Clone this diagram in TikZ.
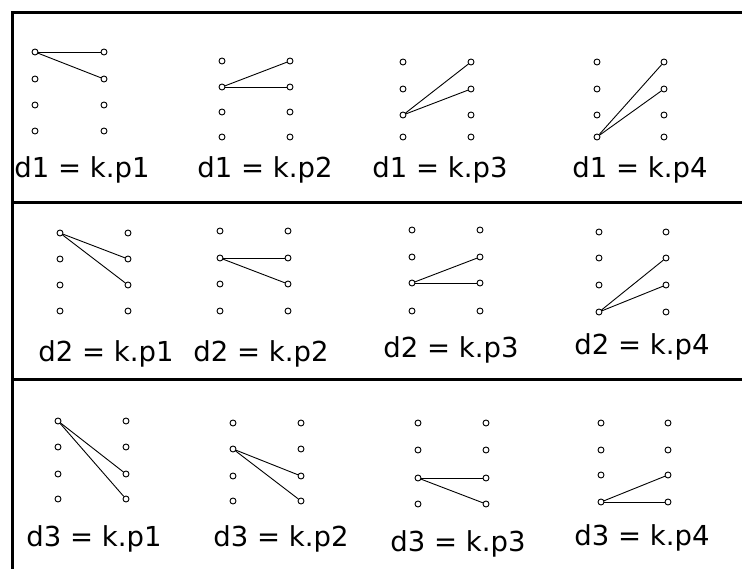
\documentclass[tikz,border=0pt]{standalone}
\usepackage{fontspec}
\setmainfont{DejaVu Sans}
\tikzset{
  pt/.style={circle,draw,line width=0.9pt,inner sep=0pt,minimum size=6pt,fill=white},
  link/.style={line width=0.9pt},
  frame/.style={line width=3pt},
  lbl/.style={anchor=base,inner sep=0pt,font=\fontsize{27.5}{31}\selectfont}
}
\newcommand{\dotpanel}[7]{%
  \foreach \i/\yy in {1/#4,2/#5,3/#6,4/#7} {
    \node[pt] (#1L\i) at (#2,\yy) {};
    \node[pt] (#1R\i) at (#3,\yy) {};
  }}
\begin{document}
\begin{tikzpicture}[x=1pt,y=-1pt]
\useasboundingbox (0,0) rectangle (742,569);
% frame
\coordinate (ftl) at (12,13);
\coordinate (ftr) at (742,13);
\coordinate (fbl) at (12,569);
\coordinate (s1l) at (12,203);
\coordinate (s1r) at (742,203);
\coordinate (s2l) at (12,380);
\coordinate (s2r) at (742,380);
\draw[frame] (ftr) -- (ftl) -- (fbl);
\draw[frame] (s1l) -- (s1r);
\draw[frame] (s2l) -- (s2r);
% row 1
\dotpanel{a}{35}{104}{52}{79}{105}{131}
\dotpanel{b}{222}{290}{61}{87}{112}{137}
\dotpanel{c}{403}{471}{62}{89}{115}{137}
\dotpanel{d}{597}{664}{62}{89}{115}{137}
% row 2
\dotpanel{e}{60}{128}{233}{259}{285}{311}
\dotpanel{f}{220}{288}{231}{258}{284}{311}
\dotpanel{g}{412}{480}{230}{257}{283}{311}
\dotpanel{h}{599}{666}{232}{258}{285}{312}
% row 3
\dotpanel{i}{58}{126}{421}{447}{474}{499}
\dotpanel{j}{233}{301}{423}{449}{476}{501}
\dotpanel{k}{418}{486}{423}{450}{478}{504}
\dotpanel{l}{601}{668}{423}{450}{475}{502}
% links
\draw[link] (aL1) -- (aR1); \draw[link] (aL1) -- (aR2);
\draw[link] (bL2) -- (bR1); \draw[link] (bL2) -- (bR2);
\draw[link] (cL3) -- (cR1); \draw[link] (cL3) -- (cR2);
\draw[link] (dL4) -- (dR1); \draw[link] (dL4) -- (dR2);
\draw[link] (eL1) -- (eR2); \draw[link] (eL1) -- (eR3);
\draw[link] (fL2) -- (fR2); \draw[link] (fL2) -- (fR3);
\draw[link] (gL3) -- (gR2); \draw[link] (gL3) -- (gR3);
\draw[link] (hL4) -- (hR2); \draw[link] (hL4) -- (hR3);
\draw[link] (iL1) -- (iR3); \draw[link] (iL1) -- (iR4);
\draw[link] (jL2) -- (jR3); \draw[link] (jL2) -- (jR4);
\draw[link] (kL3) -- (kR3); \draw[link] (kL3) -- (kR4);
\draw[link] (lL4) -- (lR3); \draw[link] (lL4) -- (lR4);
% labels
\node[lbl] (ta) at (82,178) {d1 = k.p1};
\node[lbl] (tb) at (265,178) {d1 = k.p2};
\node[lbl] (tc) at (440,178) {d1 = k.p3};
\node[lbl] (td) at (640,178) {d1 = k.p4};
\node[lbl] (te) at (106,362) {d2 = k.p1};
\node[lbl] (tf) at (261,362) {d2 = k.p2};
\node[lbl] (tg) at (451,358) {d2 = k.p3};
\node[lbl] (th) at (642,355) {d2 = k.p4};
\node[lbl] (ti) at (94,546) {d3 = k.p1};
\node[lbl] (tj) at (281,546) {d3 = k.p2};
\node[lbl] (tk) at (458,551) {d3 = k.p3};
\node[lbl] (tl) at (642,545) {d3 = k.p4};
\end{tikzpicture}
\end{document}
